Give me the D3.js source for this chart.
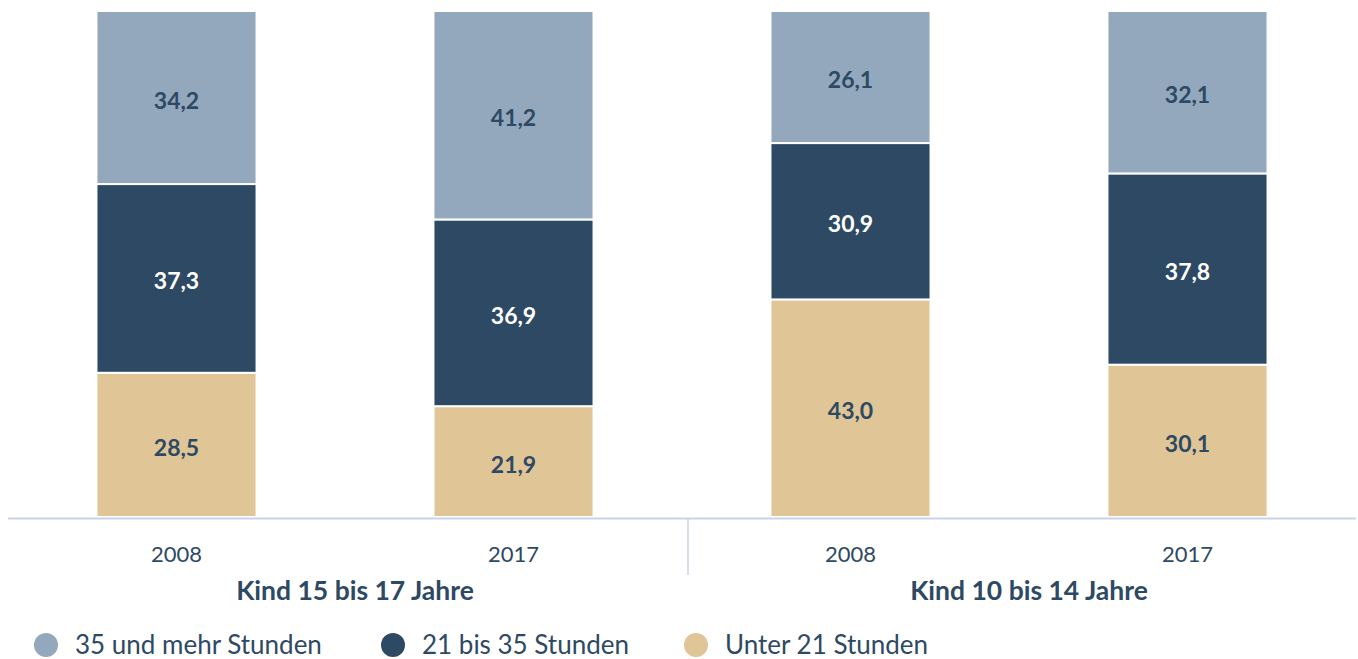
<!DOCTYPE html>
<html>
<head>
<meta charset="utf-8">
<script src="https://cdn.jsdelivr.net/npm/d3@7"></script>
<style>
  html, body { margin: 0; padding: 0; background: #fff; }
  svg { display: block; font-family: "Source Sans Pro", Lato, "Noto Sans", sans-serif; }
</style>
</head>
<body>
<svg id="chart" width="1358" height="659"></svg>
<script>
// ─── Data ────────────────────────────────────────────────────────────────────
const groups = ["Kind 15 bis 17 Jahre", "Kind 10 bis 14 Jahre"];
const years = ["2008", "2017"];
const seriesNames = ["Unter 21 Stunden", "21 bis 35 Stunden", "35 und mehr Stunden"];
const under21 = [28.5, 21.9, 43.0, 30.1];
const from21to35 = [37.3, 36.9, 30.9, 37.8];
const over35 = [34.2, 41.2, 26.1, 32.1];
const legendOrder = ["35 und mehr Stunden", "21 bis 35 Stunden", "Unter 21 Stunden"];

const colors = {
    "Unter 21 Stunden": "#e0c597",
    "21 bis 35 Stunden": "#2d4963",
    "35 und mehr Stunden": "#93a8bc"
};
const textColor = "#2d4963";
const axisColor = "#c9d3e6";

// build rows for stacking
const rows = [];
groups.forEach((g, gi) => {
    years.forEach((yr, yi) => {
        const i = gi * years.length + yi;
        rows.push({
            key: g + "|" + yr,
            group: g,
            year: yr,
            "Unter 21 Stunden": under21[i],
            "21 bis 35 Stunden": from21to35[i],
            "35 und mehr Stunden": over35[i]
        });
    });
});

const svg = d3.select("#chart");
const plotTop = 11, plotBottom = 517;

const x = d3.scaleBand()
    .domain(rows.map(d => d.key))
    .range([8, 1356])
    .paddingInner(0.525)
    .paddingOuter(0.2625);

const y = d3.scaleLinear().domain([0, 100]).range([plotBottom, plotTop]);

const stack = d3.stack().keys(seriesNames);
const stacked = stack(rows);

const fmt = v => d3.format(".1f")(v).replace(".", ",");

// ─── Bars ────────────────────────────────────────────────────────────────────
const layers = svg.append("g").selectAll("g")
    .data(stacked)
    .join("g")
    .attr("fill", d => colors[d.key]);

layers.selectAll("rect")
    .data(d => d)
    .join("rect")
    .attr("x", d => x(d.data.key))
    .attr("width", x.bandwidth())
    .attr("y", d => y(d[1]))
    .attr("height", d => y(d[0]) - y(d[1]))
    .attr("stroke", "#fff")
    .attr("stroke-width", 2);

// value labels
stacked.forEach(layer => {
    svg.append("g").selectAll("text")
        .data(layer)
        .join("text")
        .attr("x", d => x(d.data.key) + x.bandwidth() / 2)
        .attr("y", d => (y(d[0]) + y(d[1])) / 2)
        .attr("dy", "0.48em")
        .attr("text-anchor", "middle")
        .attr("font-size", 23)
        .attr("font-weight", 700)
        .attr("fill", layer.key === "21 bis 35 Stunden" ? "#fff" : textColor)
        .text(d => fmt(d[1] - d[0]));
});

// ─── Axis ────────────────────────────────────────────────────────────────────
svg.append("line")
    .attr("x1", 8).attr("x2", 1356)
    .attr("y1", plotBottom + 1.5).attr("y2", plotBottom + 1.5)
    .attr("stroke", axisColor)
    .attr("stroke-width", 2);

// group divider
const divX = (x(rows[1].key) + x.bandwidth() + x(rows[2].key)) / 2 + 6;
svg.append("line")
    .attr("x1", divX).attr("x2", divX)
    .attr("y1", plotBottom + 1).attr("y2", 575)
    .attr("stroke", axisColor)
    .attr("stroke-width", 1.5);

svg.append("g").selectAll("text")
    .data(rows)
    .join("text")
    .attr("x", d => x(d.key) + x.bandwidth() / 2)
    .attr("y", 562)
    .attr("text-anchor", "middle")
    .attr("font-size", 22)
    .attr("fill", textColor)
    .text(d => d.year);

svg.append("g").selectAll("text")
    .data(groups)
    .join("text")
    .attr("x", g => {
        const ks = rows.filter(r => r.group === g).map(r => x(r.key) + x.bandwidth() / 2);
        return d3.mean(ks) + 10;
    })
    .attr("y", 600)
    .attr("text-anchor", "middle")
    .attr("font-size", 26.5)
    .attr("font-weight", 700)
    .attr("fill", textColor)
    .text(g => g);

// ─── Legend ──────────────────────────────────────────────────────────────────
const legendX = [46, 393, 696];
const legend = svg.append("g").selectAll("g")
    .data(legendOrder)
    .join("g")
    .attr("transform", (d, i) => `translate(${legendX[i]},645)`);

legend.append("circle")
    .attr("r", 12)
    .attr("fill", d => colors[d]);

legend.append("text")
    .attr("x", 29)
    .attr("dy", "0.34em")
    .attr("font-size", 26)
    .attr("fill", textColor)
    .text(d => d);
</script>
</body>
</html>
